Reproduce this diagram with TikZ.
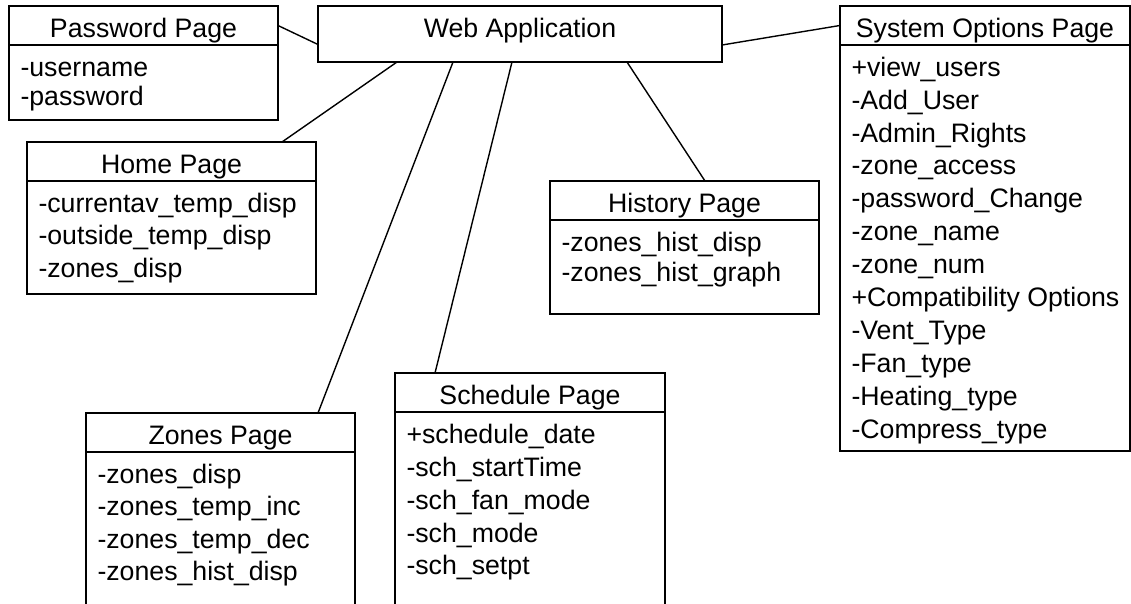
\documentclass[tikz,border=0pt]{standalone}
\usepackage{fontspec}
\setmainfont{Liberation Sans}
\usetikzlibrary{calc}

\tikzset{
  frame/.style={draw=black, line width=1.7pt, inner sep=0pt, outer sep=0pt, anchor=north west},
  title/.style={frame, minimum height=39pt, text height=24pt, text depth=0pt},
  member/.style={anchor=base west, inner sep=0pt, outer sep=0pt},
  link/.style={draw=black, line width=1.4pt},
}

% #1 compartment node, #2 line step, #3 name prefix, #4 list of members
\newcommand\classmembers[4]{%
  \foreach \m [count=\i from 0] in {#4}
    \node[member] (#3\i) at ($(#1.north west)+(11.5,31.3+#2*\i)$) {\m};
}

\begin{document}
\begin{tikzpicture}[x=1pt, y=-1pt, font=\fontsize{26.7pt}{32pt}\selectfont]
\clip (0,0) rectangle (1131,604);
\fill[white] (0,0) rectangle (1131,604);

% central node
\node[frame, minimum width=404pt, minimum height=56pt, text height=20pt, text depth=12.6pt]
  (web) at (318,6) {Web Application};

% Password Page
\node[title, minimum width=269pt] (pw) at (9,6) {Password Page};
\node[frame, minimum width=269pt, minimum height=75pt] (pwb) at (pw.south west) {};
\classmembers{pwb}{29.5}{pwm}{-username,-password}

% Home Page
\node[title, minimum width=289pt] (hp) at (27,142) {Home Page};
\node[frame, minimum width=289pt, minimum height=113pt] (hpb) at (hp.south west) {};
\classmembers{hpb}{32.5}{hpm}{-currentav\_temp\_disp,-outside\_temp\_disp,-zones\_disp}

% History Page
\node[title, minimum width=269pt, minimum height=39pt] (hi) at (550,181) {History Page};
\node[frame, minimum width=269pt, minimum height=94pt] (hib) at (hi.south west) {};
\classmembers{hib}{30}{him}{-zones\_hist\_disp,-zones\_hist\_graph}

% System Options Page
\node[title, minimum width=290pt] (so) at (840,6) {System Options Page};
\node[frame, minimum width=290pt, minimum height=406pt] (sob) at (so.south west) {};
\classmembers{sob}{32.9}{som}{+view\_users,-Add\_User,-Admin\_Rights,-zone\_access,-password\_Change,-zone\_name,-zone\_num,+Compatibility Options,-Vent\_Type,-Fan\_type,-Heating\_type,-Compress\_type}

% Zones Page
\node[title, minimum width=269pt] (zp) at (86,413) {Zones Page};
\node[frame, minimum width=269pt, minimum height=240pt] (zpb) at (zp.south west) {};
\classmembers{zpb}{32.5}{zpm}{-zones\_disp,-zones\_temp\_inc,-zones\_temp\_dec,-zones\_hist\_disp}

% Schedule Page
\node[title, minimum width=270pt] (sp) at (395,373) {Schedule Page};
\node[frame, minimum width=270pt, minimum height=280pt] (spb) at (sp.south west) {};
\classmembers{spb}{32.9}{spm}{+schedule\_date,-sch\_startTime,-sch\_fan\_mode,-sch\_mode,-sch\_setpt}

% associations
\draw[link] (pw.east) -- ([yshift=-38.5pt]web.north west);
\draw[link] ([yshift=-39pt]web.north east) -- (so.west);
\draw[link] ([xshift=79pt]web.south west) -- ([xshift=255pt]hp.north west);
\draw[link] ([xshift=135pt]web.south west) -- ([xshift=232pt]zp.north west);
\draw[link] ([xshift=194pt]web.south west) -- ([xshift=40pt]sp.north west);
\draw[link] ([xshift=309pt]web.south west) -- ([xshift=155pt]hi.north west);
\end{tikzpicture}
\end{document}
